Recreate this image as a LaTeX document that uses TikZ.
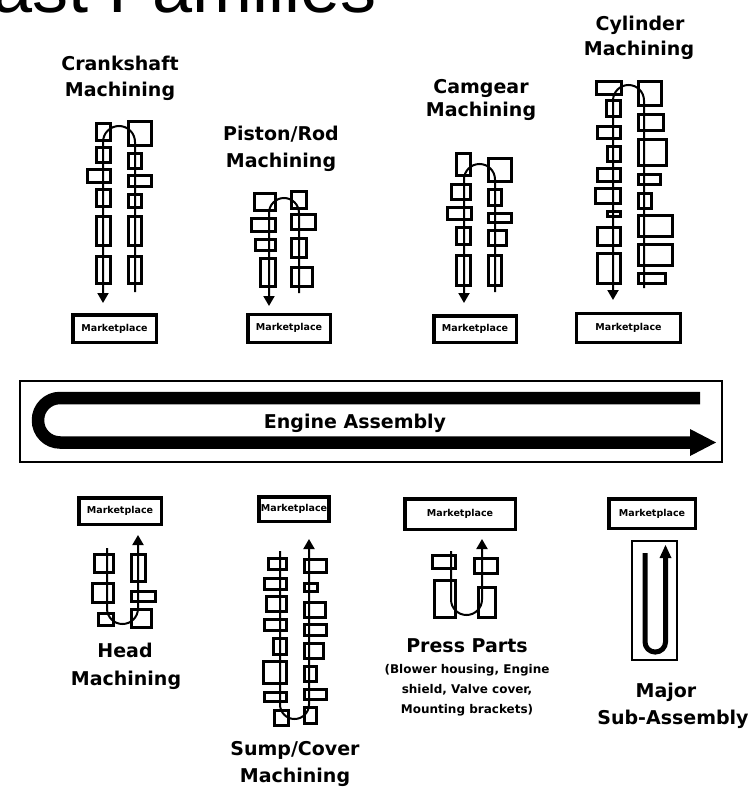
\documentclass[tikz,border=0pt]{standalone}
\usepackage{fontspec}
\setmainfont{DejaVu Sans}
\newfontfamily\arialfont{Liberation Sans}
\usetikzlibrary{arrows.meta}
\tikzset{
  mbox/.style={draw, line width=2.8pt},
  flowline/.style={line width=2pt, line cap=butt},
  flowarrow/.style={flowline, -{Triangle[length=10pt,width=11pt]}},
  mkt/.style={draw, line width=3.5pt, inner sep=0pt, font=\bfseries\fontsize{9.5}{11}\selectfont},
  ttl/.style={anchor=base, inner sep=0pt, font=\bfseries\fontsize{19}{21}\selectfont},
  sub/.style={anchor=base, inner sep=0pt, font=\bfseries\fontsize{12}{14}\selectfont},
}
\newcommand{\boxrow}[1]{\foreach \a/\b/\c/\d in {#1} \draw[mbox] (\a+1.2,\b+1.2) rectangle (\c-1.2,\d-1.2);}
\begin{document}
\begin{tikzpicture}[x=1pt,y=-1pt]
\useasboundingbox (0,0) rectangle (752,790);
% clipped title at top
\node[anchor=base west, inner sep=0pt, font=\arialfont\fontsize{72}{80}\selectfont] (title) at (-8,12) {ast Families};

% ---------- Crankshaft ----------
\node[ttl] (t1a) at (120,70) {Crankshaft};
\node[ttl] (t1b) at (120,96) {Machining};
\boxrow{95/122/112/142,95/146/112/164,86/168/112/184,95/188/112/208,95/215/112/247,95/255/112/285,
  127/120/153/147,127/152/143/170,127/174/153/188,127/193/143/209,127/215/143/247,127/255/143/285}
\draw[flowarrow, rounded corners=16pt] (135,292) -- (135,126) -- (103,126) -- (103,303);
\node[mkt, minimum width=83.5pt, minimum height=27.5pt] (m1) at (114.5,328.5) {Marketplace};

% ---------- Piston/Rod ----------
\node[ttl] (t2a) at (281,140) {Piston/Rod};
\node[ttl] (t2b) at (281,167) {Machining};
\boxrow{253/192/277/212,250/217/277/233,254/238/277/252,259/257/277/288,
  290/190/308/210,290/213/317/231,290/237/308/259,290/266/314/288}
\draw[flowarrow, rounded corners=15pt] (299,293) -- (299,198) -- (269,198) -- (269,306);
\node[mkt, minimum width=82.5pt, minimum height=28pt] (m2) at (289,328.3) {Marketplace};

% ---------- Camgear ----------
\node[ttl] (t3a) at (481,93) {Camgear};
\node[ttl] (t3b) at (481,116) {Machining};
\boxrow{455/152/472/177,450/183/472/201,446/206/473/221,455/226/472/246,455/254/472/287,
  487/157/513/183,487/188/503/207,487/212/513/224,487/229/508/247,487/254/503/287}
\draw[flowarrow, rounded corners=15.5pt] (495,292) -- (495,164) -- (464,164) -- (464,303);
\node[mkt, minimum width=82.5pt, minimum height=26.5pt] (m3) at (475,329) {Marketplace};

% ---------- Cylinder ----------
\node[ttl] (t4a) at (640,30) {Cylinder};
\node[ttl] (t4b) at (639,55) {Machining};
\boxrow{595/80/623/96,605/99/622/118,596/125/622/140,606/145/622/163,596/167/622/183,594/187/622/205,606/210/622/218,596/226/622/247,596/252/622/285,
  637/80/663/107,637/113/665/132,637/138/668/167,637/173/662/186,637/192/653/210,637/214/674/238,637/243/674/267,637/272/667/285}
\draw[flowarrow, rounded corners=15.5pt] (644,288) -- (644,85) -- (613,85) -- (613,300);
\node[mkt, minimum width=104pt, minimum height=29pt, line width=3pt] (m4) at (628.5,328) {Marketplace};

% ---------- Engine Assembly ----------
\draw[line width=2pt] (20,381) rectangle (722,462);
\draw[line width=12.5pt, line cap=butt, rounded corners=22pt] (700,398) -- (38,398) -- (38,442.5) -- (692,442.5);
\fill (690,429) -- (716,442.5) -- (690,456) -- cycle;
\node[anchor=base, inner sep=0pt, font=\bfseries\fontsize{19}{21}\selectfont] (ea) at (355,428) {Engine Assembly};

% ---------- Head ----------
\node[mkt, minimum width=82.5pt, minimum height=26.5pt] (m5) at (120,511) {Marketplace};
\boxrow{93/553/115/574,91/582/115/604,97/612/115/627,
  130/553/147/583,130/590/157/603,130/608/153/629}
\draw[flowarrow, rounded corners=15.5pt] (107,548) -- (107,624) -- (138,624) -- (138,535);
\node[ttl] (t5a) at (125,657) {Head};
\node[ttl] (t5b) at (126,685) {Machining};

% ---------- Sump/Cover ----------
\node[mkt, minimum width=70pt, minimum height=24.5pt] (m6) at (294,509) {Marketplace};
\boxrow{267/557/288/571,263/577/288/591,265/595/288/613,263/618/288/632,272/637/288/656,262/660/288/685,263/691/288/703,273/709/290/727,
  303/558/328/574,303/582/319/593,303/601/327/619,303/623/328/637,303/642/325/660,303/665/318/683,303/688/328/701,303/706/318/725}
\draw[flowarrow, rounded corners=14.5pt] (280,551) -- (280,719) -- (309,719) -- (309,539);
\node[ttl] (t6a) at (295,755) {Sump/Cover};
\node[ttl] (t6b) at (295,782) {Machining};

% ---------- Press Parts ----------
\node[mkt, minimum width=110.5pt, minimum height=30.5pt] (m7) at (460,514) {Marketplace};
\boxrow{431/554/457/570,433/579/457/619,
  473/557/499/575,477/586/497/619}
\draw[flowarrow, rounded corners=15.5pt] (451,551) -- (451,615) -- (482,615) -- (482,539);
\node[ttl] (t7a) at (467,652) {Press Parts};
\node[sub] (t7b) at (467,673) {(Blower housing, Engine};
\node[sub] (t7c) at (467,693) {shield, Valve cover,};
\node[sub] (t7d) at (467,713) {Mounting brackets)};

% ---------- Major Sub-Assembly ----------
\node[mkt, minimum width=86.5pt, minimum height=29.5pt] (m8) at (652,513.5) {Marketplace};
\draw[line width=2pt] (632,541) rectangle (677,660);
\draw[line width=5pt, line cap=butt, rounded corners=10pt] (645,553) -- (645,652) -- (665.5,652) -- (665.5,557);
\fill (659.5,558) -- (665.5,545) -- (671.5,558) -- cycle;
\node[ttl] (t8a) at (666,697) {Major};
\node[ttl] (t8b) at (673,724) {Sub-Assembly};
\end{tikzpicture}
\end{document}
